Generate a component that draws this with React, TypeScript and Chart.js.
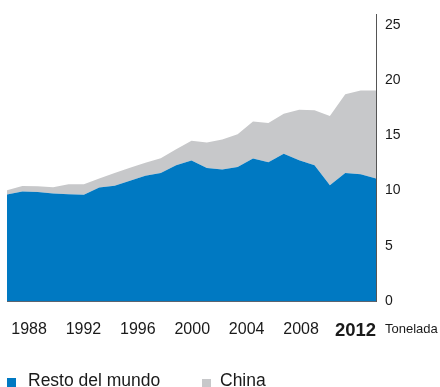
import React, { useEffect, useRef } from "react";
import { Chart, registerables } from "chart.js";

Chart.register(...registerables);

// ---- data ----
const years: string[] = [
  "1988", "1989", "1990", "1991", "1992", "1993", "1994", "1995", "1996",
  "1997", "1998", "1999", "2000", "2001", "2002", "2003", "2004", "2005",
  "2006", "2007", "2008", "2009", "2010", "2011", "2012",
];
const restoDelMundo: number[] = [
  9.65, 9.92, 9.88, 9.74, 9.67, 9.63, 10.29, 10.44, 10.9, 11.35, 11.6, 12.3,
  12.72, 12.05, 11.91, 12.14, 12.9, 12.57, 13.35, 12.75, 12.3, 10.49, 11.6,
  11.48, 11.09,
];
const china: number[] = [
  0.39, 0.5, 0.52, 0.57, 0.91, 0.95, 0.8, 1.16, 1.17, 1.17, 1.33, 1.44, 1.79,
  2.3, 2.71, 2.96, 3.37, 3.55, 3.62, 4.58, 4.97, 6.26, 7.12, 7.6, 7.99,
];
const xTickYears: number[] = [1988, 1992, 1996, 2000, 2004, 2008, 2012];
const highlightYear = 2012;
const yTickStep = 5;
const yMax = 26;
const unitLabel = "Tonelada";
const seriesNames: string[] = ["Resto del mundo", "China"];

const BLUE = "#0079C2";
const GRAY = "#C7C8CA";
const FONT = "'Liberation Sans', Arial, Helvetica, sans-serif";

const noPad = (s: any) => {
  s.paddingLeft = 0;
  s.paddingRight = 0;
  s.paddingTop = 0;
  s.paddingBottom = 0;
};

export default function App() {
  const ref = useRef<HTMLCanvasElement | null>(null);

  useEffect(() => {
    if (!ref.current) return;
    const chart = new Chart(ref.current, {
      type: "line",
      data: {
        labels: years,
        datasets: [
          {
            label: seriesNames[0],
            data: restoDelMundo,
            backgroundColor: BLUE,
            borderColor: BLUE,
            borderWidth: 0,
            pointRadius: 0,
            fill: "origin",
            tension: 0,
          },
          {
            label: seriesNames[1],
            data: china,
            backgroundColor: GRAY,
            borderColor: GRAY,
            borderWidth: 0,
            pointRadius: 0,
            fill: "-1",
            tension: 0,
          },
        ],
      },
      options: {
        animation: false,
        responsive: false,
        maintainAspectRatio: false,
        layout: { padding: { left: 7, top: 14, right: 0, bottom: 0 } },
        plugins: { legend: { display: false }, tooltip: { enabled: false } },
        scales: {
          x: {
            type: "category",
            position: "bottom",
            offset: false,
            grid: { display: false, drawTicks: false },
            ticks: { display: false },
            border: { display: true, color: "#5b6470", width: 1 },
            afterFit: (s: any) => {
              s.height = 0;
              noPad(s);
            },
          },
          x2: {
            type: "linear",
            position: "bottom",
            min: 1986.38,
            max: 2013.51,
            grid: { display: false, drawTicks: false, tickLength: 0 },
            border: { display: false },
            afterBuildTicks: (s: any) => {
              s.ticks = xTickYears.map((v) => ({ value: v }));
            },
            ticks: {
              autoSkip: false,
              maxRotation: 0,
              padding: 19,
              color: "#1a1a1a",
              callback: (v: any) => String(v),
              font: (ctx: any) =>
                ctx.tick && ctx.tick.value === highlightYear
                  ? { family: FONT, size: 18.5, weight: "bold" }
                  : { family: FONT, size: 16, weight: "normal" },
            },
            afterFit: (s: any) => {
              s.height = 86;
              noPad(s);
            },
          },
          y: {
            stacked: true,
            position: "right",
            min: 0,
            max: yMax,
            grid: { display: false, drawTicks: false, tickLength: 0 },
            border: { display: true, color: "#555555", width: 1 },
            ticks: {
              stepSize: yTickStep,
              includeBounds: false,
              padding: 9,
              color: "#1a1a1a",
              font: { family: FONT, size: 14 },
            },
            afterFit: (s: any) => {
              s.width = 64;
              noPad(s);
            },
          },
        },
      },
    } as any);
    return () => chart.destroy();
  }, []);

  return (
    <div
      style={{
        position: "fixed",
        left: 0,
        top: 0,
        width: 440,
        height: 387,
        overflow: "hidden",
        background: "#ffffff",
        fontFamily: FONT,
      }}
    >
      <canvas ref={ref} width={440} height={387} style={{ display: "block" }} />
      <span
        style={{
          position: "absolute",
          left: 385,
          top: 322,
          fontSize: 13,
          lineHeight: "13px",
          color: "#1a1a1a",
          whiteSpace: "nowrap",
        }}
      >
        {unitLabel}
      </span>
      <div
        style={{
          position: "absolute",
          left: 7,
          top: 378,
          width: 9,
          height: 9,
          background: BLUE,
        }}
      />
      <span
        style={{
          position: "absolute",
          left: 28,
          top: 372,
          fontSize: 17.5,
          lineHeight: "17.5px",
          color: "#1a1a1a",
          whiteSpace: "nowrap",
        }}
      >
        {seriesNames[0]}
      </span>
      <div
        style={{
          position: "absolute",
          left: 202,
          top: 379,
          width: 9,
          height: 9,
          background: GRAY,
        }}
      />
      <span
        style={{
          position: "absolute",
          left: 220,
          top: 372,
          fontSize: 17.5,
          lineHeight: "17.5px",
          color: "#1a1a1a",
          whiteSpace: "nowrap",
        }}
      >
        {seriesNames[1]}
      </span>
    </div>
  );
}
